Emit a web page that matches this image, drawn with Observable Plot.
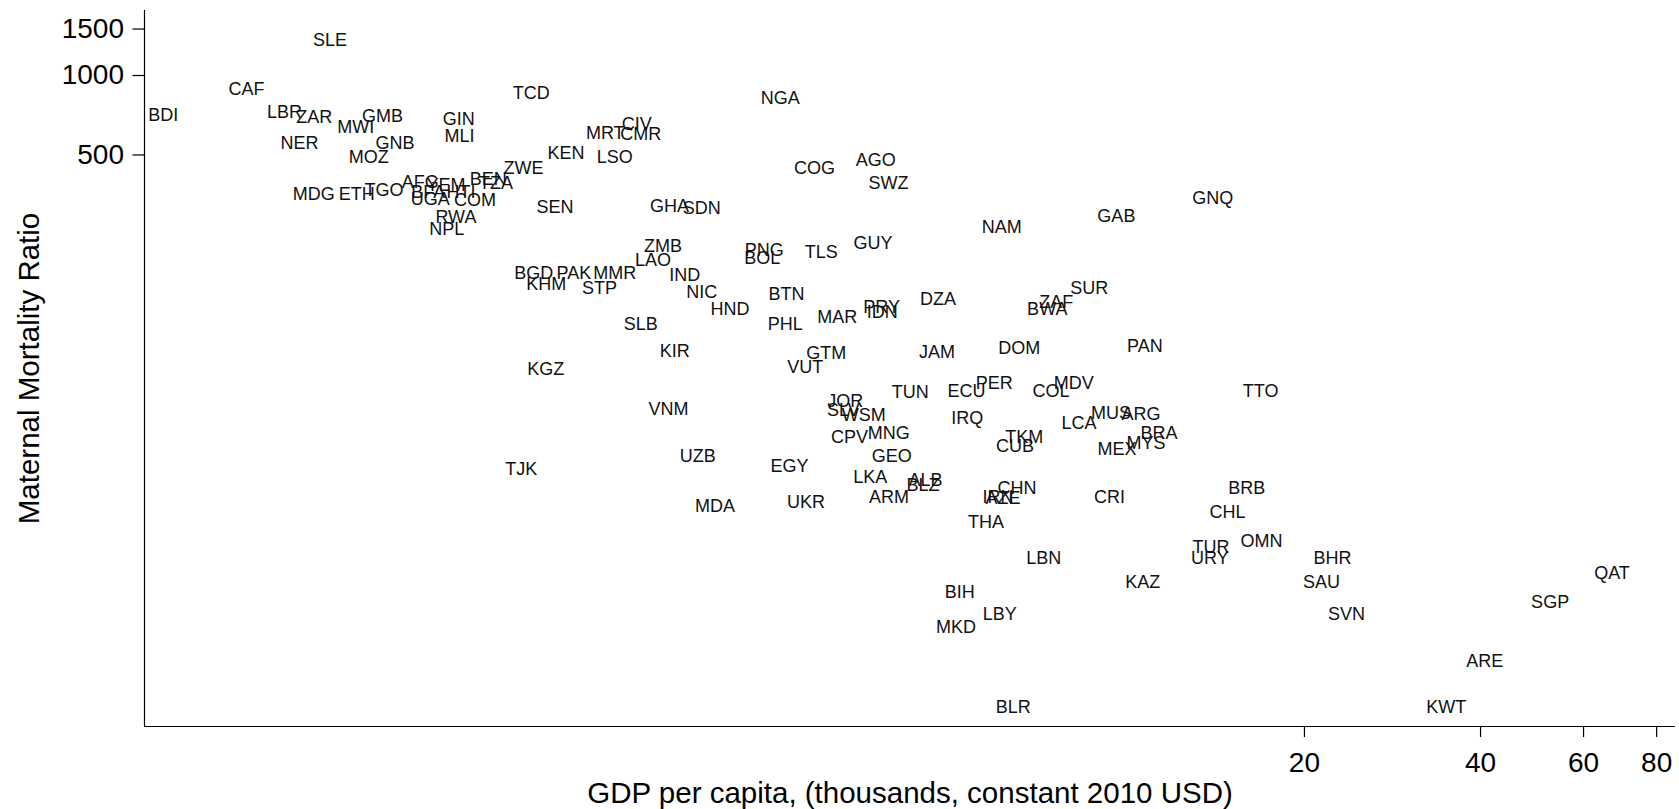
<!DOCTYPE html>
<html>
<head>
<meta charset="utf-8">
<script src="https://cdn.jsdelivr.net/npm/d3@7"></script>
<script src="https://cdn.jsdelivr.net/npm/@observablehq/plot@0.6"></script>
<style>
  html, body { margin: 0; padding: 0; background: #fff; }
  svg { display: block; }
</style>
</head>
<body>
<div id="chart"></div>
<script>
const codes = [
  "SLE","CAF","BDI","LBR","ZAR","GMB","MWI","GIN","MLI","NER",
  "GNB","MOZ","TCD","ZWE","MDG","ETH","TGO","AFG","BFA","YEM",
  "HTI","UGA","COM","BEN","TZA","RWA","NPL","SEN","KEN","MRT",
  "CIV","CMR","LSO","NGA","COG","AGO","SWZ","GHA","SDN","NAM",
  "ZMB","LAO","PNG","BOL","TLS","GUY","IND","NIC","BTN","DZA",
  "PAK","BGD","MMR","KHM","STP","HND","SLB","PHL","MAR","PRY",
  "IDN","KIR","GTM","JAM","DOM","KGZ","VUT","TUN","ECU","PER",
  "JOR","SLV","WSM","VNM","IRQ","CPV","MNG","UZB","TJK","EGY",
  "GEO","LKA","ALB","BLZ","MDA","UKR","ARM","COL","MDV","TKM",
  "CUB","CHN","CRI","THA","BRB","IRN","AZE","CHL","TUR","URY",
  "OMN","LBN","BHR","KAZ","SAU","QAT","BIH","SGP","LBY","SVN",
  "MKD","ARE","BLR","KWT","GNQ","GAB","SUR","ZAF","BWA","PAN",
  "TTO","LCA","MUS","ARG","BRA","MYS","MEX"
];

// GDP per capita, thousands of constant 2010 USD
const gdp = [
  0.432,0.311,0.224,0.361,0.406,0.531,0.478,0.717,0.719,0.383,
  0.558,0.503,0.954,0.925,0.405,0.480,0.534,0.616,0.636,0.682,
  0.723,0.641,0.764,0.805,0.830,0.709,0.684,1.047,1.093,1.276,
  1.445,1.468,1.325,2.541,2.908,3.702,3.890,1.643,1.865,6.074,
  1.602,1.540,2.385,2.368,2.987,3.660,1.745,1.865,2.605,4.728,
  1.128,0.963,1.325,1.012,1.248,2.084,1.468,2.591,3.181,3.787,
  3.798,1.678,3.046,4.710,6.507,1.010,2.804,4.239,5.291,5.897,
  3.282,3.258,3.531,1.636,5.306,3.338,3.896,1.836,0.917,2.636,
  3.939,3.621,4.501,4.458,1.965,2.811,3.900,7.373,8.064,6.637,
  6.400,6.450,9.284,5.709,15.94,5.986,6.105,14.77,13.85,13.78,
  16.89,7.165,22.33,10.58,21.38,67.1,5.150,52.6,6.030,23.59,
  5.074,40.67,6.357,34.96,13.94,9.540,8.570,7.531,7.269,10.67,
  16.83,8.233,9.339,10.51,11.28,10.72,9.561
];

// Maternal mortality ratio
const mmr = [
  1357,885,705,724,693,699,635,681,587,553,
  553,489,855,444,354,354,367,393,360,383,
  360,339,336,404,390,290,261,316,506,603,
  652,598,489,818,444,476,390,319,313,266,
  225,199,217,204,215,231,175,151,149,142,
  179,178,179,162,156,130,114,114,121,132,
  127,90.1,88.5,89.3,92.5,77.0,78.3,63.0,63.5,68.1,
  58.2,53.8,51.5,54.3,50.2,42.5,44.0,36.1,32.2,33.0,
  36.1,30.0,29.2,28.0,23.3,24.1,25.2,63.5,68.1,42.5,
  39.3,27.3,25.2,20.3,27.3,25.2,25.0,22.1,16.3,14.9,
  17.2,14.9,14.9,12.0,12.0,13.0,11.0,10.1,9.08,9.08,
  8.11,6.03,4.04,4.04,342,292,156,138,130,94.1,
  63.5,48.1,52.4,52.0,44.0,40.4,38.3
];

const xTicks = [20, 40, 60, 80];
const yTicks = [500, 1000, 1500];
const xTitle = "GDP per capita, (thousands, constant 2010 USD)";
const yTitle = "Maternal Mortality Ratio";

const data = codes.map((c, i) => ({code: c, gdp: gdp[i], mmr: mmr[i]}));

const xDomain = [0.2081, 86.16];
const yDomain = [3.42, 1763];

const chart = Plot.plot({
  width: 1679,
  height: 809,
  marginLeft: 144,
  marginRight: 4,
  marginTop: 10,
  marginBottom: 83,
  style: {
    fontFamily: "'Liberation Sans', Arial, Helvetica, sans-serif",
    background: "#fff",
    color: "#000"
  },
  x: {type: "log", domain: xDomain},
  y: {type: "log", domain: yDomain},
  marks: [
    Plot.ruleX([xDomain[0]], {stroke: "#000", strokeWidth: 1.2}),
    Plot.ruleY([yDomain[0]], {stroke: "#000", strokeWidth: 1.2}),
    Plot.axisX(xTicks, {
      tickSize: 11, label: null, tickFormat: () => "",
      stroke: "#000", strokeWidth: 1.2
    }),
    Plot.text(xTicks, {
      x: d => d, text: d => String(d), frameAnchor: "bottom",
      textAnchor: "middle", lineAnchor: "top", dy: 26, fontSize: 28, fill: "#000"
    }),
    Plot.axisY(yTicks, {
      tickSize: 11.5, tickPadding: 9, fontSize: 28, label: null,
      tickFormat: d => String(d), stroke: "#000", strokeWidth: 1.2, fill: "#000"
    }),
    Plot.text(data, {
      x: "gdp", y: "mmr", text: "code",
      fontSize: 18, fill: "#111", textAnchor: "middle", lineAnchor: "middle"
    }),
    Plot.text([xTitle], {
      frameAnchor: "bottom", textAnchor: "middle", lineAnchor: "middle",
      dy: 67, fontSize: 29.5, fill: "#000"
    }),
    Plot.text([yTitle], {
      frameAnchor: "left", textAnchor: "middle", lineAnchor: "middle",
      rotate: -90, dx: -115, fontSize: 29.5, fill: "#000"
    })
  ]
});

document.getElementById("chart").appendChild(chart);
</script>
</body>
</html>
